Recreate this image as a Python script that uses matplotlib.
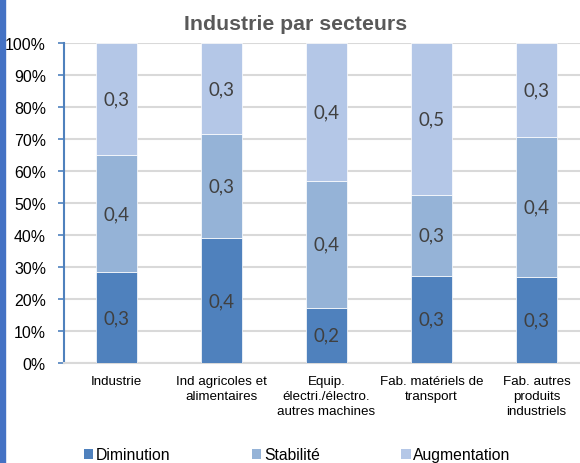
import matplotlib
matplotlib.use("Agg")
import matplotlib.pyplot as plt
from matplotlib.patches import Rectangle
import numpy as np

categories = ["Industrie", "Ind agricoles et\nalimentaires", "Equip.\nélectri./électro.\nautres machines",
              "Fab. matériels de\ntransport", "Fab. autres\nproduits\nindustriels"]
diminution = [0.283, 0.390, 0.173, 0.273, 0.270]
stabilite = [0.368, 0.325, 0.397, 0.252, 0.437]
augmentation = [0.349, 0.285, 0.430, 0.475, 0.293]
series_names = ["Diminution", "Stabilité", "Augmentation"]
yticks = [0, 10, 20, 30, 40, 50, 60, 70, 80, 90, 100]

colors = ["#4F81BD", "#95B3D7", "#B4C7E7"]

W, H = 580, 464
fig = plt.figure(figsize=(W / 100, H / 100), dpi=100)
fig.patches.append(Rectangle((0, 0), 5 / W, 1, transform=fig.transFigure, color="#4472C4", zorder=0))

ax = fig.add_axes([64 / W, (H - 364) / H, 525 / W, 320 / H])
x = np.arange(len(categories))
series = [diminution, stabilite, augmentation]
bottom = np.zeros(len(categories))
for vals, col, name in zip(series, colors, series_names):
    vals = np.array(vals)
    ax.bar(x, vals, 0.39, bottom=bottom, color=col, edgecolor="white", linewidth=0.5,
           label=name, zorder=3)
    for xi, b, v in zip(x, bottom, vals):
        ax.text(xi, b + v / 2, f"{v:.1f}".replace(".", ","), ha="center", va="center",
                fontsize=13.5, family="Lato", color="#404040", zorder=4)
    bottom += vals

ax.set_xlim(-0.5, 4.5)
ax.set_ylim(0, 1)
ax.set_yticks([t / 100 for t in yticks])
ax.set_yticklabels([f"{t}%" for t in yticks], family="Liberation Sans", fontsize=11.4, color="black")
ax.set_xticks(x)
ax.set_xticklabels(categories, family="Liberation Sans", fontsize=9.6, color="black", linespacing=1.28)
ax.tick_params(axis="x", length=0, pad=9)
ax.tick_params(axis="y", length=4, width=1.2, color="#4F81BD", direction="out", pad=9)
ax.grid(axis="y", color="#D9D9D9", linewidth=1.5, zorder=0)
ax.set_axisbelow(True)
for s in ["top", "right"]:
    ax.spines[s].set_visible(False)
ax.spines["left"].set_color("#4F81BD")
ax.spines["left"].set_linewidth(1.5)
ax.spines["bottom"].set_color("#D9D9D9")
ax.spines["bottom"].set_linewidth(1.5)

fig.text(296 / W, (H - 30) / H, "Industrie par secteurs", ha="center", va="baseline",
         family="Liberation Sans", fontweight="bold", fontsize=15.3, color="#595959")

leg = fig.legend(loc="center left", bbox_to_anchor=(84 / W, 1 - 456 / H), ncol=3, frameon=False,
                 prop={"family": "Liberation Sans", "size": 11.3},
                 handlelength=0.6, handleheight=0.6, handletextpad=0.15, columnspacing=5.2,
                 borderpad=0, borderaxespad=0)
for h in leg.legend_handles:
    h.set_edgecolor("none")

fig.savefig("out.png", dpi=100)
